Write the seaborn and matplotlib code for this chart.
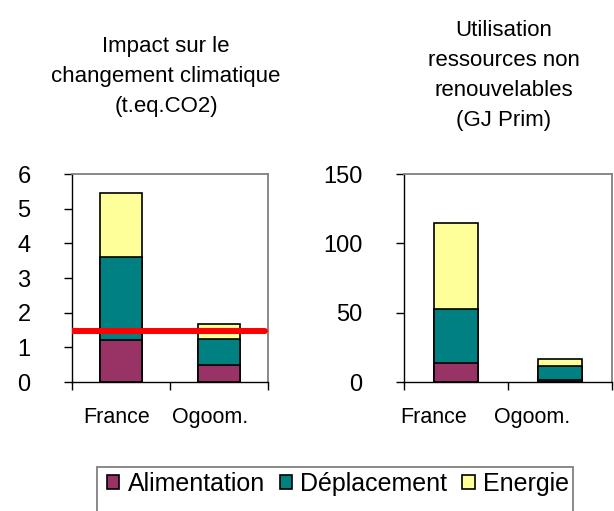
import numpy as np
import pandas as pd
import matplotlib
matplotlib.use("Agg")
import matplotlib.pyplot as plt
import matplotlib.transforms as mtransforms
from matplotlib.patches import Patch, Rectangle
import seaborn as sns

# data
pays = ["France", "Ogoom."]
postes = ["Alimentation", "Déplacement", "Energie"]
co2_alimentation = [1.21, 0.48]
co2_deplacement = [2.39, 0.76]
co2_energie = [1.85, 0.42]
co2_seuil = 1.46
gj_alimentation = [13.5, 1.5]
gj_deplacement = [39.0, 10.3]
gj_energie = [62.3, 4.6]

couleurs = {"Alimentation": "#993366", "Déplacement": "#008080", "Energie": "#FFFF99"}

sns.set_style("white")
plt.rcParams["font.family"] = ["Liberation Sans", "DejaVu Sans"]
plt.rcParams["text.color"] = "black"
plt.rcParams["xtick.color"] = "black"
plt.rcParams["ytick.color"] = "black"


def stacked(ax, alim, depl, ener, title, yticks, ylim, label_shifts, title_pad):
    df = pd.DataFrame({"pays": pays, "Alimentation": alim,
                       "Déplacement": depl, "Energie": ener})
    df["c1"] = df["Alimentation"]
    df["c2"] = df["c1"] + df["Déplacement"]
    df["c3"] = df["c2"] + df["Energie"]
    # draw from the top of the stack down so the lower segments sit in front
    for col, poste in [("c3", "Energie"), ("c2", "Déplacement"), ("c1", "Alimentation")]:
        sns.barplot(data=df, x="pays", y=col, color=couleurs[poste], width=0.42,
                    edgecolor="black", linewidth=1.2, saturation=1, ax=ax)
    ax.set_xlim(-0.5, 1.5)
    ax.set_ylim(*ylim)
    ax.set_yticks(yticks)
    ax.set_xlabel("")
    ax.set_ylabel("")
    # category boundaries carry the tick marks, names sit in between
    ax.set_xticks([-0.5, 0.5, 1.5])
    ax.set_xticklabels([])
    ax.set_xticks([0, 1], minor=True)
    ax.set_xticklabels(pays, minor=True)
    ax.tick_params(axis="x", which="major", direction="out", length=5.5,
                   width=1, color="black", bottom=True)
    ax.tick_params(axis="x", which="minor", length=0, pad=18, labelsize=15.5)
    ax.tick_params(axis="y", direction="out", length=5.8, width=1, color="black",
                   left=True, pad=24, labelsize=17)
    for lab, dx in zip(ax.get_xticklabels(minor=True), label_shifts):
        off = mtransforms.ScaledTranslation(dx / 100, 0, ax.figure.dpi_scale_trans)
        lab.set_transform(lab.get_transform() + off)
    for side in ["left", "bottom"]:
        ax.spines[side].set_color("black")
        ax.spines[side].set_linewidth(1.0)
    for side in ["top", "right"]:
        ax.spines[side].set_color("#808080")
        ax.spines[side].set_linewidth(1.3)
    ax.set_title(title, fontsize=16, va="bottom", pad=title_pad, linespacing=1.57, x=0.48)


fig = plt.figure(figsize=(6.14, 5.11), dpi=100)
ax1 = fig.add_axes([72 / 614, 129 / 511, 196 / 614, 208 / 511])
ax2 = fig.add_axes([404 / 614, 129 / 511, 208 / 614, 208 / 511])

stacked(ax1, co2_alimentation, co2_deplacement, co2_energie,
        "Impact sur le\nchangement climatique\n(t.eq.CO2)", range(0, 7), (0, 6), [-4, -9], 41)
ax1.axhline(co2_seuil, xmin=0, xmax=0.985, color="#FF0000", linewidth=4.3, zorder=5)

stacked(ax2, gj_alimentation, gj_deplacement, gj_energie,
        "Utilisation\nressources non\nrenouvelables\n(GJ Prim)", [0, 50, 100, 150], (0, 150),
        [-22, -28], 31)

# legend frame runs off the bottom edge of the picture, as in the reference
fig.patches.append(Rectangle((97 / 614, -0.1), (573 - 97) / 614, 0.1 + (511 - 467) / 511,
                             transform=fig.transFigure, facecolor="white",
                             edgecolor="#808080", linewidth=1.3, zorder=0))
handles = [Patch(facecolor=couleurs[p], edgecolor="black", linewidth=1.2, label=p) for p in postes]
fig.legend(handles=handles, loc="upper left", bbox_to_anchor=(97 / 614, 1 - 462 / 511),
           ncol=3, frameon=False, fontsize=18, handlelength=0.5, handleheight=0.5,
           handletextpad=0.32, columnspacing=0.6, borderpad=0.4, borderaxespad=0)

fig.savefig("out.png", dpi=100)
